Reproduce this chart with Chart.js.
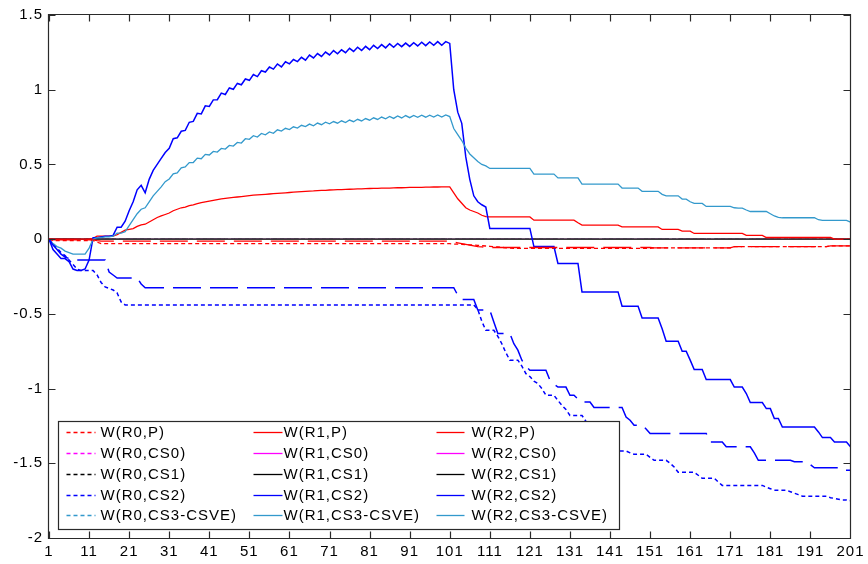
<!DOCTYPE html>
<html>
<head>
<meta charset="utf-8">
<title>W(R,·) traces</title>
<script src="https://cdn.jsdelivr.net/npm/chart.js@4.4.1/dist/chart.umd.min.js"></script>
<style>
  html, body { margin: 0; padding: 0; background: #ffffff; }
  #plot { display: block; }
</style>
</head>
<body>
<canvas id="plot" width="868" height="564"></canvas>
<script>
// Step index 1..201 along the horizontal axis
const steps = Array.from({ length: 201 }, (_, i) => String(i + 1));
const yTicks = [-2, -1.5, -1, -0.5, 0, 0.5, 1, 1.5];

// Weights that stay at zero over the whole run
const zeroTrace = [
  0, 0, 0, 0, 0, 0, 0, 0, 0, 0,
  0, 0, 0, 0, 0, 0, 0, 0, 0, 0,
  0, 0, 0, 0, 0, 0, 0, 0, 0, 0,
  0, 0, 0, 0, 0, 0, 0, 0, 0, 0,
  0, 0, 0, 0, 0, 0, 0, 0, 0, 0,
  0, 0, 0, 0, 0, 0, 0, 0, 0, 0,
  0, 0, 0, 0, 0, 0, 0, 0, 0, 0,
  0, 0, 0, 0, 0, 0, 0, 0, 0, 0,
  0, 0, 0, 0, 0, 0, 0, 0, 0, 0,
  0, 0, 0, 0, 0, 0, 0, 0, 0, 0,
  0, 0, 0, 0, 0, 0, 0, 0, 0, 0,
  0, 0, 0, 0, 0, 0, 0, 0, 0, 0,
  0, 0, 0, 0, 0, 0, 0, 0, 0, 0,
  0, 0, 0, 0, 0, 0, 0, 0, 0, 0,
  0, 0, 0, 0, 0, 0, 0, 0, 0, 0,
  0, 0, 0, 0, 0, 0, 0, 0, 0, 0,
  0, 0, 0, 0, 0, 0, 0, 0, 0, 0,
  0, 0, 0, 0, 0, 0, 0, 0, 0, 0,
  0, 0, 0, 0, 0, 0, 0, 0, 0, 0,
  0, 0, 0, 0, 0, 0, 0, 0, 0, 0,
  0
];

// W(R0,P)
const r0P = [
  0, -0.01, -0.01, -0.01, -0.01, -0.01, -0.01, -0.01, -0.01, -0.01,
  -0.01, -0.01, -0.02, -0.03, -0.03, -0.03, -0.03, -0.03, -0.03, -0.03,
  -0.03, -0.03, -0.03, -0.03, -0.03, -0.03, -0.03, -0.03, -0.03, -0.03,
  -0.03, -0.03, -0.03, -0.03, -0.03, -0.03, -0.03, -0.03, -0.03, -0.03,
  -0.03, -0.03, -0.03, -0.03, -0.03, -0.03, -0.03, -0.03, -0.03, -0.03,
  -0.03, -0.03, -0.03, -0.03, -0.03, -0.03, -0.03, -0.03, -0.03, -0.03,
  -0.03, -0.03, -0.03, -0.03, -0.03, -0.03, -0.03, -0.03, -0.03, -0.03,
  -0.03, -0.03, -0.03, -0.03, -0.03, -0.03, -0.03, -0.03, -0.03, -0.03,
  -0.03, -0.03, -0.03, -0.03, -0.03, -0.03, -0.03, -0.03, -0.03, -0.03,
  -0.03, -0.03, -0.03, -0.03, -0.03, -0.03, -0.03, -0.03, -0.03, -0.03,
  -0.03, -0.033, -0.034, -0.035, -0.036, -0.038, -0.04, -0.042, -0.044, -0.046,
  -0.048, -0.05, -0.052, -0.055, -0.058, -0.06, -0.062, -0.062, -0.062, -0.062,
  -0.062, -0.062, -0.062, -0.062, -0.062, -0.062, -0.062, -0.062, -0.062, -0.062,
  -0.062, -0.062, -0.062, -0.062, -0.062, -0.062, -0.062, -0.062, -0.062, -0.062,
  -0.062, -0.062, -0.062, -0.062, -0.062, -0.062, -0.062, -0.062, -0.062, -0.062,
  -0.062, -0.058, -0.058, -0.058, -0.058, -0.058, -0.058, -0.058, -0.058, -0.058,
  -0.058, -0.058, -0.058, -0.058, -0.058, -0.058, -0.058, -0.058, -0.058, -0.058,
  -0.058, -0.05, -0.05, -0.05, -0.05, -0.05, -0.05, -0.05, -0.05, -0.05,
  -0.05, -0.05, -0.05, -0.05, -0.05, -0.05, -0.05, -0.05, -0.05, -0.05,
  -0.05, -0.05, -0.05, -0.05, -0.05, -0.045, -0.045, -0.045, -0.045, -0.045,
  -0.045
];

// W(R0,CS2)
const r0CS2 = [
  0, -0.03, -0.06, -0.09, -0.11, -0.14, -0.17, -0.2, -0.21, -0.21,
  -0.21, -0.21, -0.24, -0.29, -0.32, -0.33, -0.34, -0.36, -0.42, -0.44,
  -0.44, -0.44, -0.44, -0.44, -0.44, -0.44, -0.44, -0.44, -0.44, -0.44,
  -0.44, -0.44, -0.44, -0.44, -0.44, -0.44, -0.44, -0.44, -0.44, -0.44,
  -0.44, -0.44, -0.44, -0.44, -0.44, -0.44, -0.44, -0.44, -0.44, -0.44,
  -0.44, -0.44, -0.44, -0.44, -0.44, -0.44, -0.44, -0.44, -0.44, -0.44,
  -0.44, -0.44, -0.44, -0.44, -0.44, -0.44, -0.44, -0.44, -0.44, -0.44,
  -0.44, -0.44, -0.44, -0.44, -0.44, -0.44, -0.44, -0.44, -0.44, -0.44,
  -0.44, -0.44, -0.44, -0.44, -0.44, -0.44, -0.44, -0.44, -0.44, -0.44,
  -0.44, -0.44, -0.44, -0.44, -0.44, -0.44, -0.44, -0.44, -0.44, -0.44,
  -0.44, -0.44, -0.44, -0.44, -0.44, -0.44, -0.44, -0.47, -0.55, -0.61,
  -0.61, -0.61, -0.65, -0.7, -0.76, -0.81, -0.81, -0.81, -0.85, -0.9,
  -0.92, -0.95, -0.967, -1.0, -1.045, -1.045, -1.045, -1.08, -1.112, -1.14,
  -1.18, -1.18, -1.18, -1.18, -1.22, -1.26, -1.3, -1.34, -1.37, -1.39,
  -1.4, -1.41, -1.418, -1.418, -1.418, -1.43, -1.44, -1.44, -1.44, -1.44,
  -1.46, -1.48, -1.48, -1.48, -1.48, -1.5, -1.525, -1.56, -1.56, -1.56,
  -1.56, -1.56, -1.58, -1.6, -1.6, -1.6, -1.6, -1.625, -1.648, -1.648,
  -1.648, -1.648, -1.648, -1.648, -1.648, -1.648, -1.648, -1.648, -1.648, -1.66,
  -1.67, -1.68, -1.68, -1.68, -1.68, -1.69, -1.7, -1.71, -1.72, -1.72,
  -1.72, -1.72, -1.72, -1.72, -1.72, -1.73, -1.735, -1.74, -1.745, -1.745,
  -1.75
];

// W(R1,P)
const r1P = [
  0, 0, 0, 0, 0, 0, 0, 0, 0, 0,
  0, 0.005, 0.02, 0.02, 0.02, 0.02, 0.02, 0.03, 0.045, 0.06,
  0.065, 0.07, 0.085, 0.095, 0.1, 0.115, 0.13, 0.145, 0.155, 0.165,
  0.175, 0.19, 0.2, 0.21, 0.215, 0.225, 0.23, 0.238, 0.245, 0.25,
  0.255, 0.26, 0.265, 0.27, 0.273, 0.276, 0.279, 0.282, 0.285, 0.288,
  0.291, 0.294, 0.296, 0.298, 0.3, 0.302, 0.304, 0.306, 0.308, 0.31,
  0.312, 0.314, 0.316, 0.318, 0.32, 0.322, 0.323, 0.325, 0.326, 0.327,
  0.329, 0.33, 0.331, 0.332, 0.333, 0.334, 0.335, 0.336, 0.337, 0.338,
  0.339, 0.34, 0.34, 0.341, 0.342, 0.342, 0.343, 0.344, 0.344, 0.345,
  0.346, 0.346, 0.347, 0.347, 0.348, 0.348, 0.349, 0.349, 0.35, 0.35,
  0.35, 0.31, 0.27, 0.24, 0.21, 0.195, 0.185, 0.175, 0.16, 0.15,
  0.149, 0.149, 0.149, 0.149, 0.149, 0.149, 0.149, 0.149, 0.149, 0.149,
  0.149, 0.127, 0.127, 0.127, 0.127, 0.127, 0.127, 0.127, 0.127, 0.127,
  0.127, 0.127, 0.11, 0.094, 0.094, 0.094, 0.094, 0.094, 0.094, 0.094,
  0.094, 0.094, 0.094, 0.082, 0.082, 0.082, 0.082, 0.082, 0.082, 0.082,
  0.082, 0.082, 0.082, 0.065, 0.065, 0.065, 0.065, 0.065, 0.054, 0.054,
  0.054, 0.038, 0.038, 0.038, 0.038, 0.038, 0.038, 0.038, 0.038, 0.038,
  0.038, 0.038, 0.038, 0.038, 0.025, 0.025, 0.025, 0.025, 0.025, 0.011,
  0.011, 0.011, 0.011, 0.011, 0.011, 0.011, 0.011, 0.011, 0.011, 0.011,
  0.011, 0.011, 0.011, 0.011, 0.011, 0.011, 0, 0, 0, 0,
  0
];

// W(R1,CS2)
const r1CS2 = [
  0, -0.07, -0.1, -0.13, -0.13, -0.15, -0.2, -0.21, -0.21, -0.2,
  -0.14, 0.01, 0.01, 0.015, 0.02, 0.02, 0.025, 0.08, 0.08, 0.12,
  0.19, 0.25, 0.33, 0.36, 0.31, 0.4, 0.46, 0.5, 0.54, 0.58,
  0.608, 0.672, 0.678, 0.722, 0.728, 0.782, 0.788, 0.842, 0.838, 0.892,
  0.888, 0.932, 0.933, 0.977, 0.968, 1.012, 1.003, 1.042, 1.033, 1.072,
  1.063, 1.102, 1.088, 1.127, 1.118, 1.152, 1.138, 1.172, 1.153, 1.187,
  1.173, 1.202, 1.188, 1.217, 1.198, 1.232, 1.213, 1.242, 1.223, 1.252,
  1.233, 1.262, 1.24, 1.267, 1.248, 1.277, 1.256, 1.284, 1.263, 1.29,
  1.268, 1.297, 1.276, 1.302, 1.28, 1.307, 1.284, 1.31, 1.288, 1.312,
  1.29, 1.315, 1.293, 1.318, 1.295, 1.32, 1.297, 1.322, 1.298, 1.322,
  1.31, 1.0, 0.85, 0.775, 0.55, 0.4, 0.29, 0.25, 0.23, 0.215,
  0.072, 0.072, 0.072, 0.072, 0.072, 0.072, 0.072, 0.072, 0.072, 0.072,
  0.072, -0.05, -0.05, -0.05, -0.05, -0.05, -0.05, -0.163, -0.163, -0.163,
  -0.163, -0.163, -0.163, -0.353, -0.353, -0.353, -0.353, -0.353, -0.353, -0.353,
  -0.353, -0.353, -0.353, -0.449, -0.449, -0.449, -0.449, -0.449, -0.527, -0.527,
  -0.527, -0.527, -0.527, -0.6, -0.683, -0.683, -0.683, -0.683, -0.75, -0.75,
  -0.81, -0.873, -0.873, -0.873, -0.94, -0.94, -0.94, -0.94, -0.94, -0.94,
  -0.94, -0.99, -0.99, -0.99, -1.033, -1.094, -1.094, -1.094, -1.094, -1.134,
  -1.134, -1.2, -1.2, -1.257, -1.257, -1.257, -1.257, -1.257, -1.257, -1.257,
  -1.257, -1.257, -1.29, -1.328, -1.328, -1.328, -1.358, -1.358, -1.358, -1.358,
  -1.39
];

// W(R1,CS3-CSVE)
const r1CS3 = [
  0, -0.03, -0.05, -0.06, -0.08, -0.09, -0.1, -0.1, -0.1, -0.1,
  -0.06, 0, 0.01, 0.01, 0.015, 0.015, 0.02, 0.04, 0.04, 0.05,
  0.09, 0.13, 0.17, 0.2, 0.21, 0.25, 0.29, 0.32, 0.35, 0.385,
  0.403, 0.437, 0.443, 0.477, 0.483, 0.512, 0.513, 0.542, 0.538, 0.567,
  0.563, 0.587, 0.583, 0.607, 0.603, 0.627, 0.623, 0.647, 0.643, 0.672,
  0.668, 0.692, 0.683, 0.707, 0.698, 0.717, 0.708, 0.732, 0.723, 0.742,
  0.733, 0.752, 0.743, 0.762, 0.753, 0.77, 0.759, 0.777, 0.766, 0.783,
  0.772, 0.787, 0.776, 0.792, 0.78, 0.797, 0.786, 0.802, 0.791, 0.807,
  0.796, 0.812, 0.801, 0.817, 0.805, 0.821, 0.808, 0.824, 0.811, 0.827,
  0.813, 0.828, 0.815, 0.829, 0.816, 0.83, 0.817, 0.831, 0.817, 0.831,
  0.82, 0.74, 0.7, 0.66, 0.61, 0.57, 0.545, 0.52, 0.5, 0.49,
  0.473, 0.473, 0.473, 0.473, 0.473, 0.473, 0.473, 0.473, 0.473, 0.473,
  0.473, 0.435, 0.435, 0.435, 0.435, 0.435, 0.435, 0.41, 0.41, 0.41,
  0.41, 0.41, 0.41, 0.368, 0.368, 0.368, 0.368, 0.368, 0.368, 0.368,
  0.368, 0.368, 0.368, 0.342, 0.342, 0.342, 0.342, 0.342, 0.32, 0.32,
  0.32, 0.32, 0.32, 0.3, 0.29, 0.29, 0.29, 0.29, 0.268, 0.268,
  0.25, 0.239, 0.239, 0.239, 0.219, 0.219, 0.219, 0.219, 0.219, 0.219,
  0.219, 0.21, 0.208, 0.208, 0.195, 0.185, 0.185, 0.185, 0.185, 0.185,
  0.17, 0.155, 0.145, 0.143, 0.143, 0.143, 0.143, 0.143, 0.143, 0.143,
  0.143, 0.143, 0.13, 0.125, 0.125, 0.125, 0.125, 0.125, 0.125, 0.125,
  0.114
];

// W(R2,P)
const r2P = [
  0, -0.005, -0.005, -0.005, -0.005, -0.005, -0.005, -0.005, -0.005, -0.005,
  -0.005, -0.005, -0.01, -0.013, -0.013, -0.013, -0.013, -0.013, -0.013, -0.013,
  -0.013, -0.013, -0.013, -0.013, -0.013, -0.013, -0.013, -0.013, -0.013, -0.013,
  -0.013, -0.013, -0.013, -0.013, -0.013, -0.013, -0.013, -0.013, -0.013, -0.013,
  -0.013, -0.013, -0.013, -0.013, -0.013, -0.013, -0.013, -0.013, -0.013, -0.013,
  -0.013, -0.013, -0.013, -0.013, -0.013, -0.013, -0.013, -0.013, -0.013, -0.013,
  -0.013, -0.013, -0.013, -0.013, -0.013, -0.013, -0.013, -0.013, -0.013, -0.013,
  -0.013, -0.013, -0.013, -0.013, -0.013, -0.013, -0.013, -0.013, -0.013, -0.013,
  -0.013, -0.013, -0.013, -0.013, -0.013, -0.013, -0.013, -0.013, -0.013, -0.013,
  -0.013, -0.013, -0.013, -0.013, -0.013, -0.013, -0.013, -0.013, -0.013, -0.013,
  -0.015, -0.02, -0.025, -0.03, -0.035, -0.04, -0.045, -0.05, -0.052, -0.054,
  -0.056, -0.056, -0.056, -0.056, -0.056, -0.056, -0.056, -0.056, -0.056, -0.056,
  -0.056, -0.056, -0.056, -0.056, -0.056, -0.056, -0.056, -0.056, -0.056, -0.056,
  -0.056, -0.056, -0.056, -0.056, -0.056, -0.056, -0.056, -0.056, -0.056, -0.056,
  -0.056, -0.056, -0.056, -0.056, -0.056, -0.056, -0.056, -0.056, -0.056, -0.056,
  -0.056, -0.058, -0.058, -0.058, -0.058, -0.058, -0.058, -0.058, -0.058, -0.058,
  -0.058, -0.058, -0.058, -0.058, -0.058, -0.058, -0.058, -0.058, -0.058, -0.058,
  -0.058, -0.05, -0.05, -0.05, -0.05, -0.05, -0.05, -0.05, -0.05, -0.05,
  -0.05, -0.05, -0.05, -0.05, -0.05, -0.05, -0.05, -0.05, -0.05, -0.05,
  -0.05, -0.05, -0.05, -0.05, -0.05, -0.045, -0.045, -0.045, -0.045, -0.045,
  -0.045
];

// W(R2,CS2)
const r2CS2 = [
  0, -0.04, -0.07, -0.1, -0.12, -0.13, -0.13, -0.14, -0.14, -0.14,
  -0.14, -0.14, -0.14, -0.14, -0.14, -0.22, -0.24, -0.26, -0.26, -0.26,
  -0.26, -0.26, -0.26, -0.3, -0.325, -0.325, -0.325, -0.325, -0.325, -0.325,
  -0.325, -0.325, -0.325, -0.325, -0.325, -0.325, -0.325, -0.325, -0.325, -0.325,
  -0.325, -0.325, -0.325, -0.325, -0.325, -0.325, -0.325, -0.325, -0.325, -0.325,
  -0.325, -0.325, -0.325, -0.325, -0.325, -0.325, -0.325, -0.325, -0.325, -0.325,
  -0.325, -0.325, -0.325, -0.325, -0.325, -0.325, -0.325, -0.325, -0.325, -0.325,
  -0.325, -0.325, -0.325, -0.325, -0.325, -0.325, -0.325, -0.325, -0.325, -0.325,
  -0.325, -0.325, -0.325, -0.325, -0.325, -0.325, -0.325, -0.325, -0.325, -0.325,
  -0.325, -0.325, -0.325, -0.325, -0.325, -0.325, -0.325, -0.325, -0.325, -0.325,
  -0.325, -0.325, -0.375, -0.404, -0.404, -0.404, -0.404, -0.475, -0.475, -0.475,
  -0.475, -0.554, -0.632, -0.632, -0.632, -0.632, -0.7, -0.743, -0.81, -0.85,
  -0.877, -0.877, -0.877, -0.877, -0.877, -0.944, -0.97, -0.99, -0.99, -0.99,
  -1.045, -1.045, -1.07, -1.09, -1.09, -1.09, -1.127, -1.127, -1.127, -1.127,
  -1.127, -1.127, -1.127, -1.127, -1.19, -1.212, -1.246, -1.246, -1.246, -1.27,
  -1.3, -1.3, -1.3, -1.3, -1.3, -1.3, -1.3, -1.3, -1.3, -1.3,
  -1.3, -1.3, -1.3, -1.3, -1.3, -1.358, -1.358, -1.358, -1.358, -1.39,
  -1.39, -1.39, -1.39, -1.39, -1.39, -1.39, -1.43, -1.48, -1.48, -1.48,
  -1.48, -1.48, -1.48, -1.48, -1.48, -1.48, -1.49, -1.49, -1.49, -1.49,
  -1.51, -1.53, -1.53, -1.53, -1.53, -1.53, -1.53, -1.53, -1.547, -1.547,
  -1.547
];

const RED = '#ff0000', MAGENTA = '#ff00ff', BLACK = '#000000', BLUE = '#0000ff', CYAN = '#3399cc';
const DOTTED = [4, 3], SOLID = [], LONG_DASH = [28, 9];

// Plot order: R0 group, R1 group, R2 group (later traces sit on top)
const traces = [
  { label: 'W(R0,P)',        values: r0P,       color: RED,     dash: DOTTED },
  { label: 'W(R0,CS0)',      values: zeroTrace, color: MAGENTA, dash: DOTTED },
  { label: 'W(R0,CS1)',      values: zeroTrace, color: BLACK,   dash: DOTTED },
  { label: 'W(R0,CS2)',      values: r0CS2,     color: BLUE,    dash: DOTTED },
  { label: 'W(R0,CS3-CSVE)', values: zeroTrace, color: CYAN,    dash: DOTTED },
  { label: 'W(R1,P)',        values: r1P,       color: RED,     dash: SOLID },
  { label: 'W(R1,CS0)',      values: zeroTrace, color: MAGENTA, dash: SOLID },
  { label: 'W(R1,CS1)',      values: zeroTrace, color: BLACK,   dash: SOLID },
  { label: 'W(R1,CS2)',      values: r1CS2,     color: BLUE,    dash: SOLID },
  { label: 'W(R1,CS3-CSVE)', values: r1CS3,     color: CYAN,    dash: SOLID },
  { label: 'W(R2,P)',        values: r2P,       color: RED,     dash: LONG_DASH },
  { label: 'W(R2,CS0)',      values: zeroTrace, color: MAGENTA, dash: LONG_DASH },
  { label: 'W(R2,CS1)',      values: zeroTrace, color: BLACK,   dash: LONG_DASH },
  { label: 'W(R2,CS2)',      values: r2CS2,     color: BLUE,    dash: LONG_DASH },
  { label: 'W(R2,CS3-CSVE)', values: zeroTrace, color: CYAN,    dash: LONG_DASH }
];

// Flat traces go underneath, with the black ones forming the visible zero line
function drawOrder(t, i) {
  if (t.values === zeroTrace) return t.color === BLACK ? 50 - i : 100;
  return -i;
}

function lineWidth(t) {
  if (t.values === zeroTrace) return t.color === BLACK && t.dash === SOLID ? 1.8 : 1;
  return t.color === BLUE ? 1.5 : 1.3;
}

const datasets = traces.map((t, i) => ({
  label: t.label,
  data: t.values,
  borderColor: t.values === zeroTrace && t.color === BLACK ? '#3c3c3c' : t.color,
  backgroundColor: t.color,
  borderDash: t.dash,
  borderWidth: lineWidth(t),
  pointRadius: 0,
  tension: 0,
  fill: false,
  order: drawOrder(t, i)
}));

const FONT_FAMILY = "'Liberation Sans', Arial, sans-serif";

// Slightly wider letter spacing for all canvas text
const spacing = {
  id: 'spacing',
  beforeDraw(chart) { chart.ctx.letterSpacing = '1px'; }
};

// Box around the axes with inward tick marks on all four sides
const frame = {
  id: 'frame',
  afterDatasetsDraw(chart) {
    const { ctx, chartArea: a, scales: { x, y } } = chart;
    const L = Math.round(a.left) - 0.5, R = Math.round(a.right) + 0.5;
    const T = Math.round(a.top) - 0.5, B = Math.round(a.bottom) + 0.5;
    const len = 7;
    ctx.save();
    ctx.strokeStyle = '#2a2a2a';
    ctx.lineWidth = 1.2;
    ctx.setLineDash([]);
    ctx.beginPath();
    ctx.rect(L, T, R - L, B - T);
    yTicks.forEach(v => {
      const py = Math.round(y.getPixelForValue(v)) + 0.5;
      ctx.moveTo(L, py); ctx.lineTo(L + len, py);
      ctx.moveTo(R, py); ctx.lineTo(R - len, py);
    });
    x.ticks.forEach((t, i) => {
      if (t.label === null || t.label === undefined || t.label === '') return;
      const px = Math.round(x.getPixelForTick(i)) + 0.5;
      ctx.moveTo(px, T); ctx.lineTo(px, T + len);
      ctx.moveTo(px, B); ctx.lineTo(px, B - len);
    });
    ctx.stroke();
    ctx.restore();
  }
};

// Three-column key in the lower left of the axes
const key = {
  id: 'key',
  afterDraw(chart) {
    const { ctx, chartArea: a } = chart;
    const left = Math.round(a.left) + 9.5, top = Math.round(a.bottom) - 116.5;
    const w = 561, h = 108;
    const sampleX = [8, 195, 378], textX = [42, 225, 413];
    ctx.save();
    ctx.fillStyle = '#ffffff';
    ctx.fillRect(left, top, w, h);
    ctx.strokeStyle = '#2a2a2a';
    ctx.lineWidth = 1.2;
    ctx.setLineDash([]);
    ctx.strokeRect(left, top, w, h);
    ctx.font = '15px ' + FONT_FAMILY;
    ctx.textBaseline = 'middle';
    ctx.textAlign = 'left';
    traces.forEach((t, i) => {
      const col = Math.floor(i / 5), row = i % 5;
      const cy = Math.round(top + 10.7 + row * 20.8) + 0.5;
      ctx.strokeStyle = t.color;
      ctx.lineWidth = 1.3;
      ctx.setLineDash(t.dash);
      ctx.beginPath();
      ctx.moveTo(left + sampleX[col], cy);
      ctx.lineTo(left + sampleX[col] + 29, cy);
      ctx.stroke();
      ctx.setLineDash([]);
      ctx.fillStyle = '#000000';
      ctx.fillText(t.label, left + textX[col], cy);
    });
    ctx.restore();
  }
};

new Chart(document.getElementById('plot'), {
  type: 'line',
  data: { labels: steps, datasets },
  options: {
    responsive: false,
    animation: false,
    events: [],
    layout: { padding: { top: 15, right: 13, left: 0, bottom: 0 } },
    plugins: { legend: { display: false }, tooltip: { enabled: false } },
    scales: {
      x: {
        type: 'category',
        offset: false,
        grid: { display: false, drawTicks: false },
        border: { display: false },
        ticks: {
          autoSkip: false,
          maxRotation: 0,
          minRotation: 0,
          padding: 5,
          color: '#000000',
          font: { family: FONT_FAMILY, size: 15 },
          callback(value, index) {
            return index % 10 === 0 ? steps[index] : null;
          }
        },
        afterFit(scale) { scale.height = 26; }
      },
      y: {
        min: -2,
        max: 1.5,
        grid: { display: false, drawTicks: false },
        border: { display: false },
        ticks: {
          stepSize: 0.5,
          padding: 6,
          color: '#000000',
          font: { family: FONT_FAMILY, size: 15 },
          callback(value) { return String(value); }
        },
        afterFit(scale) { scale.width = 49; }
      }
    }
  },
  plugins: [spacing, frame, key]
});
</script>
</body>
</html>
